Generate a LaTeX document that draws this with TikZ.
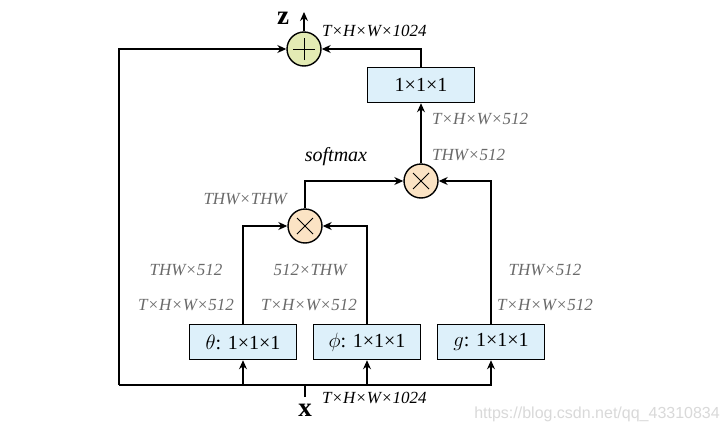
\documentclass[tikz,border=0pt]{standalone}
\usepackage{fontspec}
\setmainfont{Liberation Serif}
\newfontfamily\wmfont{Liberation Sans}
\usetikzlibrary{arrows.meta}
\definecolor{boxblue}{HTML}{DDF0FA}
\definecolor{addgreen}{HTML}{E3EBB4}
\definecolor{mulorange}{HTML}{FBE3C4}
\definecolor{dimgray}{HTML}{6A6A6A}
\definecolor{wmgray}{HTML}{D9D9D9}
\tikzset{
  conv/.style={draw, line width=1.5pt, fill=boxblue, minimum width=107pt, minimum height=35pt, inner sep=0pt, font=\fontsize{20}{20}\selectfont},
  opcircle/.style={draw, line width=1.4pt, circle, minimum size=34pt, inner sep=0pt},
  addop/.style={opcircle, fill=addgreen, path picture={
      \draw[line width=0.9pt] ([xshift=-11pt]path picture bounding box.center) -- ([xshift=11pt]path picture bounding box.center);
      \draw[line width=0.9pt] ([yshift=-11pt]path picture bounding box.center) -- ([yshift=11pt]path picture bounding box.center);}},
  mulop/.style={opcircle, fill=mulorange, path picture={
      \draw[line width=0.9pt] ([shift={(-8pt,-8pt)}]path picture bounding box.center) -- ([shift={(8pt,8pt)}]path picture bounding box.center);
      \draw[line width=0.9pt] ([shift={(-8pt,8pt)}]path picture bounding box.center) -- ([shift={(8pt,-8pt)}]path picture bounding box.center);}},
  arr/.style={line width=1.1pt, -{Stealth[length=9pt,width=8pt]}},
  ln/.style={line width=1.1pt},
  dimlab/.style={text=dimgray, font=\fontsize{17}{17}\selectfont\itshape, inner sep=0pt},
  blklab/.style={text=black, font=\fontsize{17}{17}\selectfont\itshape, inner sep=0pt},
  varlab/.style={font=\fontsize{27}{27}\selectfont\bfseries, inner sep=0pt},
}
\begin{document}
\begin{tikzpicture}[x=1pt,y=-1pt]
\useasboundingbox[fill=white] (0,0) rectangle (726,434);
% operators
\node[addop] (add) at (304,49) {};
\node[mulop] (m2) at (421,181) {};
\node[mulop] (m1) at (305,226) {};
% conv boxes
\node[conv] (out) at (421,85) {1×1×1};
\node[conv] (th) at (243,342) {$\theta$: 1×1×1};
\node[conv] (ph) at (367,342) {$\phi$: 1×1×1};
\node[conv] (g) at (491,342) {$g$: 1×1×1};
% coordinates
\coordinate (ztop) at (304,12);
\coordinate (xin) at (305,397);
\coordinate (bus) at (305,385);
\coordinate (bl) at (119,385);
% connectors
\draw[arr] (add) -- (ztop);
\draw[arr] (m2) -- (out);
\draw[arr] (out.north) |- (add.east);
\draw[arr] (m1.north) |- (m2.west);
\draw[arr] (th.north) |- (m1.west);
\draw[arr] (ph.north) |- (m1.east);
\draw[arr] (g.north) |- (m2.east);
\draw[arr] (bl) |- (add.west);
\draw[arr] (bl) -| (g.south);
\draw[arr] (th.south |- bl) -- (th.south);
\draw[arr] (ph.south |- bl) -- (ph.south);
\draw[ln] (xin) -- (bus);
% variable labels
\node[varlab] (zlab) at (283,18) {z};
\node[varlab] (xlab) at (305,410) {x};
% dimension labels
\node[blklab, anchor=west] (ldimz) at (322,31) {T×H×W×1024};
\node[blklab, anchor=west] (ldimx) at (322,398) {T×H×W×1024};
\node[dimlab, anchor=west] (lout1) at (432,119) {T×H×W×512};
\node[dimlab, anchor=west] (lout2) at (432,155) {THW×512};
\node[blklab, font=\fontsize{20}{20}\selectfont\itshape] (lsoft) at (336,157) {softmax};
\node[dimlab, anchor=east] (lthw) at (287,199) {THW×THW};
\node[dimlab] (lth1) at (186,270) {THW×512};
\node[dimlab] (lph1) at (310,270) {512×THW};
\node[dimlab] (lg1) at (545,270) {THW×512};
\node[dimlab] (lth2) at (186,305) {T×H×W×512};
\node[dimlab] (lph2) at (309,305) {T×H×W×512};
\node[dimlab] (lg2) at (545,305) {T×H×W×512};
% watermark
\node[anchor=east, text=wmgray, font=\wmfont\fontsize{16}{16}\selectfont, inner sep=0pt] (wm) at (720,414) {https://blog.csdn.net/qq\_43310834};
\end{tikzpicture}
\end{document}
